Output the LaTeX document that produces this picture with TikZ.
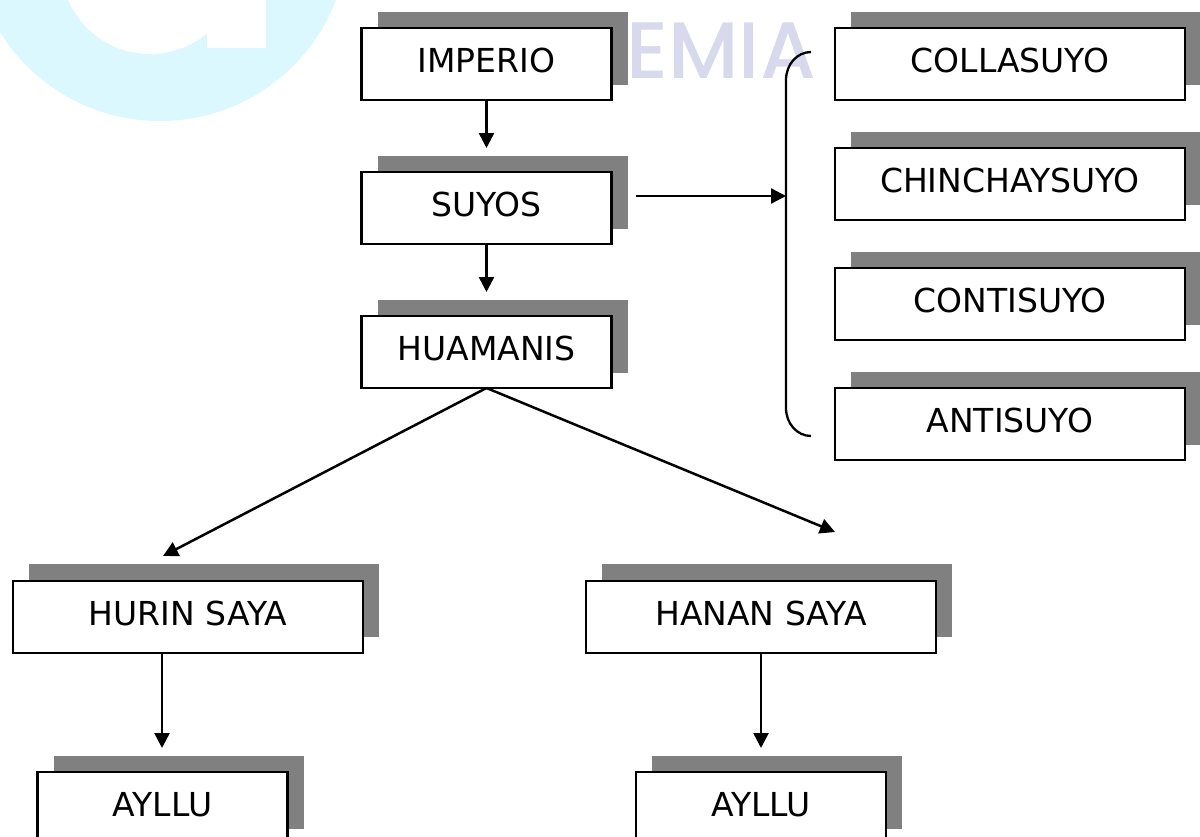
\documentclass[tikz,border=0pt]{standalone}
\usepackage{fontspec}
\setmainfont{DejaVu Sans}
\newfontfamily\wmfont{Poppins}[UprightFont={* Medium}]
\usetikzlibrary{arrows.meta}
\definecolor{wmcyan}{HTML}{DAF8FE}
\definecolor{wmviolet}{HTML}{D9D9EE}
\definecolor{shadowgray}{HTML}{808080}
\tikzset{
  x=1pt,y=-1pt,
  shadowbox/.style={fill=shadowgray,draw=none,inner sep=0pt,outer sep=0pt,minimum height=73pt},
  wide/.style={minimum width=350pt},
  narrow/.style={minimum width=250pt},
  labelbox/.style={draw=black,line width=2.3pt,fill=white,inner sep=0pt,outer sep=0pt,minimum height=72pt,
    text height=23.5pt,text depth=6pt,font=\fontsize{33}{36}\selectfont},
  link/.style={draw=black,line width=2.5pt,-{Triangle[length=15pt,width=15pt]}},
  bracket/.style={draw=black,line width=2.3pt}
}
\begin{document}
\begin{tikzpicture}
\clip (0,0) rectangle (1200,836);
% watermark
\fill[wmcyan] (160,-67.5) circle[radius=188.5pt];
\fill[white] (150,-35) circle[radius=89pt];
\fill[white] (207,-5) rectangle (266,48);
\node[font=\wmfont\fontsize{80}{84}\selectfont,text=wmviolet,anchor=base east,inner sep=0pt] (wm) at (816,78) {EMIA};
% shadows
\node[shadowbox,narrow] (s1) at (503,48) {};
\node[shadowbox,narrow] (s2) at (503,192.5) {};
\node[shadowbox,narrow] (s3) at (503,336.5) {};
\node[shadowbox,wide] (s4) at (1026,48) {};
\node[shadowbox,wide] (s5) at (1026,168) {};
\node[shadowbox,wide] (s6) at (1026,288) {};
\node[shadowbox,wide] (s7) at (1026,408) {};
\node[shadowbox,wide] (s8) at (204,600.5) {};
\node[shadowbox,wide] (s9) at (777,600.5) {};
\node[shadowbox,narrow] (s10) at (179,792.5) {};
\node[shadowbox,narrow] (s11) at (777,792.5) {};
% boxes
\node[labelbox,narrow] (imperio) at (486.5,64) {IMPERIO};
\node[labelbox,narrow] (suyos) at (486.5,208) {SUYOS};
\node[labelbox,narrow] (huamanis) at (486.5,352) {HUAMANIS};
\node[labelbox,wide] (colla) at (1010,64) {COLLASUYO};
\node[labelbox,wide] (chin) at (1010,184) {CHINCHAYSUYO};
\node[labelbox,wide] (conti) at (1010,304) {CONTISUYO};
\node[labelbox,wide] (anti) at (1010,424) {ANTISUYO};
\node[labelbox,wide] (hurin) at (188,617) {HURIN SAYA};
\node[labelbox,wide] (hanan) at (761,617) {HANAN SAYA};
\node[labelbox,narrow] (ayllu1) at (162.5,808) {AYLLU};
\node[labelbox,narrow] (ayllu2) at (761,808) {AYLLU};
% free ends
\coordinate (e1) at (486.5,148);
\coordinate (e2) at (486.5,292);
\coordinate (e3) at (163,556);
\coordinate (e4) at (835,532);
\coordinate (e5) at (162,748);
\coordinate (e6) at (761,748);
\coordinate (b0) at (636,196);
\coordinate (b1) at (786,196);
\coordinate (bt) at (811,52);
\coordinate (bb) at (811,436);
% connectors
\draw[link] (imperio.south) -- (e1);
\draw[link] (suyos.south) -- (e2);
\draw[link] (huamanis.south) -- (e3);
\draw[link] (huamanis.south) -- (e4);
\draw[link] (hurin.south -| e5) -- (e5);
\draw[link] (hanan.south) -- (e6);
\draw[link] (b0) -- (b1);
\draw[bracket] (bt) .. controls (797,52) and (786,64.5) .. (786,80) -- (786,408) .. controls (786,423.5) and (797,436) .. (bb);
\end{tikzpicture}
\end{document}
